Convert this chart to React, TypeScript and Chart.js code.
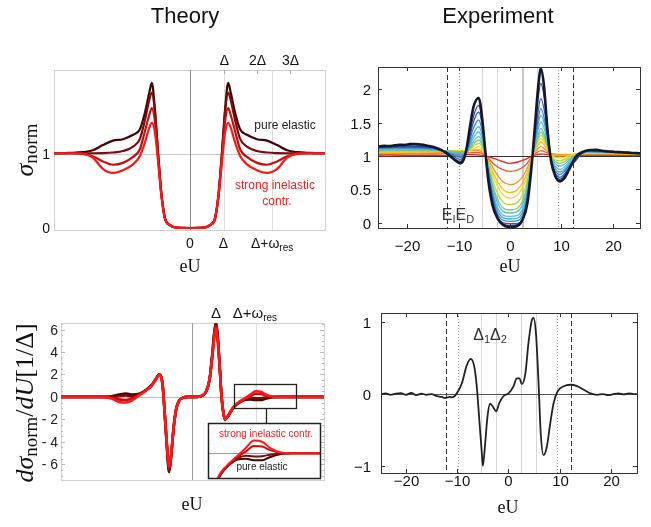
import React, { useEffect, useRef } from "react";
import { Chart, registerables } from "chart.js";

Chart.register(...registerables);

const W = 651;
const H = 527;
const SANS = "'Liberation Sans', Arial, Helvetica, sans-serif";
const SERIF = "'Liberation Serif', 'DejaVu Serif', 'Times New Roman', serif";

// ---------- Theory: normalized conductance, x in units of Delta
const thX = [-4.06, -3.6, -3.2, -2.9, -2.6, -2.3, -2.0, -1.7, -1.5, -1.35, -1.22, -1.14, -1.05, -0.95, -0.85, -0.75, -0.6, -0.4, 0, 0.4, 0.6, 0.75, 0.85, 0.95, 1.05, 1.14, 1.22, 1.35, 1.5, 1.7, 2.0, 2.3, 2.6, 2.9, 3.2, 3.6, 4.03];
const thPure = [1.01, 1.015, 1.025, 1.05, 1.12, 1.18, 1.2, 1.26, 1.33, 1.55, 1.82, 1.96, 1.62, 1.0, 0.45, 0.14, 0.04, 0.005, 0, 0.005, 0.04, 0.14, 0.45, 1.0, 1.62, 1.96, 1.82, 1.55, 1.33, 1.26, 1.2, 1.18, 1.12, 1.05, 1.025, 1.015, 1.01];
const thWeak = [1.01, 1.01, 1.01, 1.01, 1.012, 1.02, 1.04, 1.1, 1.2, 1.45, 1.72, 1.83, 1.58, 0.98, 0.44, 0.14, 0.04, 0.005, 0, 0.005, 0.04, 0.14, 0.44, 0.98, 1.58, 1.83, 1.72, 1.45, 1.2, 1.1, 1.04, 1.02, 1.012, 1.01, 1.01, 1.01, 1.01];
const thMid = [1.01, 1.01, 1.0, 0.97, 0.9, 0.855, 0.88, 0.96, 1.06, 1.3, 1.52, 1.62, 1.45, 0.93, 0.43, 0.13, 0.04, 0.005, 0, 0.005, 0.04, 0.13, 0.43, 0.93, 1.45, 1.62, 1.52, 1.3, 1.06, 0.96, 0.88, 0.855, 0.9, 0.97, 1.0, 1.01, 1.01];
const thStrong = [1.01, 1.01, 1.005, 0.95, 0.8, 0.745, 0.78, 0.86, 0.97, 1.15, 1.35, 1.42, 1.3, 0.88, 0.42, 0.13, 0.04, 0.005, 0, 0.005, 0.04, 0.13, 0.42, 0.88, 1.3, 1.42, 1.35, 1.15, 0.97, 0.86, 0.78, 0.745, 0.8, 0.95, 1.005, 1.01, 1.01];
const thColors = ["#3f0606", "#7e0b0b", "#c40f0f", "#ff1616"]; // pure elastic -> strong inelastic

const thTopTicks = [1, 2, 3];
const thTopLabels = ["Δ", "2Δ", "3Δ"];
const thBottomTicks = [0, 1, 2.45];
const thBottomLabels = ["0", "Δ", "Δ+ω"];
const thBottomSubs = ["", "", "res"];
const thYTicks = [0, 1];

// ---------- Theory: derivative
const tdX = [-5.04, -4.0, -3.4, -3.1, -2.8, -2.55, -2.3, -2.0, -1.75, -1.55, -1.4, -1.26, -1.13, -1.04, -0.97, -0.88, -0.8, -0.7, -0.6, -0.5, -0.35, -0.15, 0, 0.2, 0.4, 0.55, 0.68, 0.78, 0.86, 0.92, 0.98, 1.06, 1.13, 1.2, 1.27, 1.38, 1.5, 1.65, 1.85, 2.05, 2.25, 2.45, 2.65, 2.85, 3.1, 3.4, 4.0, 5.08];
const tdPure = [0, 0, 0, 0.05, 0.2, 0.3, 0.2, 0.3, 0.66, 1.06, 1.56, 2.0, 1.1, -1.8, -4.3, -6.7, -5.3, -2.6, -1.0, -0.35, -0.08, 0, 0, 0, 0.12, 0.5, 1.6, 3.8, 5.8, 6.6, 5.7, 3.0, 0.3, -1.3, -2.0, -1.76, -1.3, -0.82, -0.46, -0.25, -0.22, -0.28, -0.28, -0.15, -0.03, 0, 0, 0];
const tdWeak = [0, 0, 0, 0.0, 0.08, 0.12, 0.05, 0.25, 0.64, 1.04, 1.54, 2.0, 1.08, -1.8, -4.2, -6.6, -5.2, -2.6, -1.0, -0.35, -0.08, 0, 0, 0, 0.12, 0.5, 1.6, 3.7, 5.7, 6.5, 5.6, 2.95, 0.28, -1.3, -2.0, -1.74, -1.28, -0.8, -0.44, -0.2, -0.1, -0.13, -0.12, -0.06, -0.01, 0, 0, 0];
const tdMid = [0, 0, 0, -0.07, -0.22, -0.27, -0.15, 0.22, 0.62, 1.02, 1.52, 2.0, 1.05, -1.8, -4.1, -6.4, -5.1, -2.6, -1.0, -0.35, -0.08, 0, 0, 0, 0.12, 0.5, 1.6, 3.6, 5.5, 6.3, 5.5, 2.9, 0.25, -1.3, -2.0, -1.72, -1.25, -0.78, -0.42, -0.14, 0.06, 0.28, 0.26, 0.12, 0.02, 0, 0, 0];
const tdStrong = [0, 0, 0, -0.15, -0.45, -0.5, -0.3, 0.2, 0.6, 1.0, 1.5, 2.0, 1.0, -1.8, -4.0, -6.2, -5.0, -2.6, -1.0, -0.35, -0.08, 0, 0, 0, 0.12, 0.5, 1.6, 3.5, 5.3, 6.1, 5.3, 2.8, 0.2, -1.3, -2.0, -1.7, -1.2, -0.75, -0.4, -0.1, 0.2, 0.5, 0.45, 0.2, 0.03, 0, 0, 0];
const tdYTicks = [6, 4, 2, 0, -2, -4, -6];
const tdYLabels = ["6", "4", "2", "0", "- 2", "- 4", "- 6"];

// ---------- Experiment: normalized conductance, x in meV
const exX = [-25.7, -20, -15, -12.5, -9.7, -8.4, -7.2, -6.1, -5.3, -4.7, -3.0, -1.5, 0, 1.5, 3.0, 4.4, 5.2, 6.0, 6.8, 8.0, 9.7, 12.0, 15, 20, 25.3];
const exRed = [1.0, 1.005, 1.01, 1.01, 1.02, 1.02, 1.02, 1.015, 1.01, 1.0, 0.96, 0.92, 0.89, 0.91, 0.95, 1.0, 1.02, 1.03, 1.025, 1.015, 1.01, 1.01, 1.01, 1.01, 1.01];
const exRedOrange = [1.02, 1.03, 1.03, 1.035, 1.04, 1.045, 1.05, 1.05, 1.03, 1.0, 0.87, 0.8, 0.77, 0.79, 0.86, 1.0, 1.05, 1.08, 1.06, 1.03, 1.02, 1.02, 1.02, 1.02, 1.02];
const exOrange = [1.04, 1.045, 1.05, 1.06, 1.07, 1.075, 1.08, 1.08, 1.05, 1.0, 0.78, 0.62, 0.57, 0.61, 0.76, 1.0, 1.09, 1.14, 1.1, 1.03, 1.02, 1.025, 1.03, 1.03, 1.03];
const exAmber = [1.05, 1.055, 1.06, 1.07, 1.08, 1.08, 1.09, 1.1, 1.07, 1.0, 0.7, 0.51, 0.45, 0.5, 0.68, 1.0, 1.13, 1.21, 1.15, 1.02, 1.0, 1.02, 1.04, 1.035, 1.03];
const exYellow = [1.06, 1.065, 1.07, 1.075, 1.08, 1.08, 1.11, 1.14, 1.09, 1.0, 0.64, 0.43, 0.37, 0.42, 0.62, 1.0, 1.16, 1.26, 1.19, 1.01, 0.97, 1.01, 1.04, 1.04, 1.03];
const exLime = [1.07, 1.075, 1.075, 1.075, 1.07, 1.08, 1.14, 1.19, 1.12, 1.0, 0.55, 0.32, 0.27, 0.31, 0.53, 1.0, 1.19, 1.31, 1.22, 1.0, 0.93, 1.0, 1.05, 1.045, 1.035];
const exGreen = [1.08, 1.085, 1.08, 1.075, 1.06, 1.07, 1.17, 1.24, 1.15, 1.0, 0.47, 0.23, 0.19, 0.22, 0.45, 1.0, 1.22, 1.36, 1.26, 0.99, 0.89, 0.98, 1.05, 1.045, 1.035];
const exTeal = [1.09, 1.095, 1.09, 1.075, 1.05, 1.07, 1.21, 1.29, 1.18, 1.0, 0.42, 0.18, 0.145, 0.17, 0.4, 1.0, 1.25, 1.41, 1.3, 0.98, 0.85, 0.96, 1.06, 1.05, 1.04];
const exCyan = [1.1, 1.105, 1.1, 1.07, 1.03, 1.07, 1.26, 1.36, 1.22, 1.0, 0.36, 0.12, 0.094, 0.11, 0.34, 1.0, 1.31, 1.51, 1.37, 0.97, 0.8, 0.94, 1.06, 1.05, 1.04];
const exSky = [1.11, 1.115, 1.105, 1.065, 1.0, 1.07, 1.32, 1.44, 1.27, 1.0, 0.31, 0.08, 0.055, 0.07, 0.29, 1.0, 1.37, 1.61, 1.45, 0.96, 0.76, 0.92, 1.07, 1.055, 1.04];
const exBlue = [1.12, 1.125, 1.11, 1.06, 0.98, 1.08, 1.4, 1.54, 1.33, 1.0, 0.26, 0.04, 0.02, 0.03, 0.24, 1.0, 1.43, 1.71, 1.52, 0.95, 0.72, 0.9, 1.07, 1.055, 1.04];
const exMidBlue = [1.125, 1.135, 1.12, 1.06, 0.95, 1.09, 1.49, 1.66, 1.4, 1.0, 0.22, 0.0, -0.015, -0.01, 0.2, 1.0, 1.52, 1.86, 1.63, 0.94, 0.68, 0.88, 1.08, 1.06, 1.045];
const exNavy = [1.13, 1.15, 1.13, 1.055, 0.92, 1.1, 1.57, 1.76, 1.46, 1.0, 0.19, -0.02, -0.04, -0.03, 0.18, 1.0, 1.65, 2.09, 1.8, 0.93, 0.65, 0.86, 1.08, 1.06, 1.045];
const exSeries = [exRed, exRedOrange, exOrange, exAmber, exYellow, exLime, exGreen, exTeal, exCyan, exSky, exBlue, exMidBlue, exNavy];
const exColors = ["#e8262a", "#f0532b", "#f7931e", "#f9b81b", "#f0dc1f", "#bdd636", "#82c673", "#5dc3b0", "#4cc0e4", "#3fa2db", "#3680c8", "#2f5fb0", "#283d92"];

const exBlackX = [-25.7, -24.5, -23.5, -22.5, -21.5, -20.5, -19.5, -18.5, -17.5, -16.5, -15.5, -14.5, -13.5, -12.5, -11.5, -10.6, -9.7, -9.0, -8.4, -7.8, -7.1, -6.1, -5.4, -4.8, -4.2, -3.4, -2.4, -1.4, 0, 1.4, 2.4, 3.4, 4.2, 4.9, 5.5, 6.0, 6.6, 7.3, 8.0, 8.8, 9.7, 10.7, 11.7, 12.8, 13.8, 14.8, 15.8, 16.8, 17.8, 18.8, 19.8, 20.8, 21.8, 22.8, 23.8, 25.3];
const exBlack = [1.14, 1.152, 1.148, 1.16, 1.168, 1.165, 1.178, 1.18, 1.172, 1.162, 1.145, 1.125, 1.095, 1.05, 0.99, 0.93, 0.89, 0.95, 1.14, 1.44, 1.74, 1.87, 1.55, 1.06, 0.62, 0.26, 0.06, -0.03, -0.065, -0.05, 0.04, 0.3, 0.85, 1.5, 2.05, 2.31, 2.06, 1.38, 0.92, 0.7, 0.62, 0.68, 0.83, 0.99, 1.05, 1.08, 1.09, 1.092, 1.08, 1.072, 1.066, 1.06, 1.056, 1.05, 1.046, 1.04];
const exBlackColor = "#15172a";

const expXTicks = [-20, -10, 0, 10, 20];
const expYTicks = [0, 0.5, 1, 1.5, 2];
const expDYTicks = [-1, 0, 1];
const expDashed = [-12.3, 12.2];
const expDotted = [-9.9, 9.4];
const expGray = [-5.4, -2.5, 5.3];
const expGrayBold = [2.5];

// ---------- Experiment: derivative
const edX = [-24.9, -24, -23, -22, -21, -20, -19, -18, -17, -16, -15, -14, -13, -12.4, -11.5, -11.0, -10.1, -9.1, -8.2, -7.4, -6.7, -6.2, -5.7, -5.2, -5.0, -4.6, -4.1, -3.6, -3.1, -2.4, -1.8, -1.0, 0, 1.0, 1.6, 2.15, 2.6, 3.3, 3.9, 4.6, 4.9, 5.4, 5.9, 6.3, 6.85, 7.5, 8.15, 8.8, 9.6, 10.8, 12.1, 13.4, 14.7, 16.0, 17.3, 18.5, 19.5, 20.5, 21.5, 22.5, 23.5, 24.5, 25.1];
const edY = [0.0, 0.01, -0.01, 0.005, 0.012, -0.01, 0.015, -0.015, 0.005, -0.01, 0.0, -0.03, -0.04, -0.055, -0.04, -0.045, 0.01, 0.15, 0.39, 0.49, 0.39, 0.11, -0.36, -0.83, -1.0, -0.73, -0.31, -0.135, -0.17, -0.24, -0.125, -0.03, 0.01, 0.11, 0.22, 0.22, 0.14, 0.29, 0.71, 1.04, 1.06, 0.81, 0.11, -0.55, -0.85, -0.73, -0.41, -0.13, 0.04, 0.11, 0.13, 0.11, 0.06, 0.01, -0.01, 0.0, -0.015, 0.0, 0.01, -0.005, 0.01, 0.0, 0.0];

// ---------- helpers
type Part = [string, string, number];

const pts = (xs: number[], ys: number[]) => xs.map((x, i) => ({ x, y: ys[i] }));
const line = (xs: number[], ys: number[], color: string, width: number, order: number) => ({
  data: pts(xs, ys),
  borderColor: color,
  borderWidth: width,
  pointRadius: 0,
  fill: false,
  order,
  cubicInterpolationMode: "monotone",
  borderJoinStyle: "round",
  borderCapStyle: "round",
});

const fmt = (v: number) => (v < 0 ? "\u2212" + Math.abs(v) : String(v));
const px = (c: any, v: number) => c.scales.x.getPixelForValue(v);
const py = (c: any, v: number) => c.scales.y.getPixelForValue(v);
const crisp = (v: number) => Math.round(v) + 0.5;

function seg(ctx: CanvasRenderingContext2D, x1: number, y1: number, x2: number, y2: number, color: string, w = 1, dash: number[] = []) {
  ctx.save();
  ctx.strokeStyle = color;
  ctx.lineWidth = w;
  ctx.setLineDash(dash);
  ctx.beginPath();
  ctx.moveTo(x1, y1);
  ctx.lineTo(x2, y2);
  ctx.stroke();
  ctx.restore();
}
function vline(c: any, v: number, color: string, w = 1, dash: number[] = []) {
  const a = c.chartArea;
  const X = w % 2 === 1 ? crisp(px(c, v)) : Math.round(px(c, v));
  seg(c.ctx, X, a.top, X, a.bottom, color, w, dash);
}
function hline(c: any, v: number, color: string, w = 1) {
  const a = c.chartArea;
  const Y = crisp(py(c, v));
  seg(c.ctx, a.left, Y, a.right, Y, color, w);
}
function box(ctx: CanvasRenderingContext2D, l: number, t: number, r: number, b: number, color: string, w = 1) {
  ctx.save();
  ctx.strokeStyle = color;
  ctx.lineWidth = w;
  ctx.strokeRect(crisp(l), crisp(t), Math.round(r - l), Math.round(b - t));
  ctx.restore();
}
function rich(ctx: CanvasRenderingContext2D, parts: Part[], x: number, y: number, align: string, color: string, rot = 0) {
  ctx.save();
  ctx.translate(x, y);
  if (rot) ctx.rotate(rot);
  ctx.fillStyle = color;
  ctx.textBaseline = "alphabetic";
  ctx.textAlign = "left";
  const ws = parts.map((p) => {
    ctx.font = p[1];
    return ctx.measureText(p[0]).width;
  });
  const total = ws.reduce((s, w) => s + w, 0);
  let cx = align === "center" ? -total / 2 : align === "right" ? -total : 0;
  parts.forEach((p, i) => {
    ctx.font = p[1];
    ctx.fillText(p[0], cx, p[2]);
    cx += ws[i];
  });
  ctx.restore();
}

type Panel = {
  area: number[];
  x: number[];
  y: number[];
  datasets: any[];
  under?: (c: any) => void;
  over?: (c: any) => void;
};

function makeChart(canvas: HTMLCanvasElement, p: Panel) {
  const [l, t, r, b] = p.area;
  return new Chart(canvas, {
    type: "line",
    data: { datasets: p.datasets },
    options: {
      responsive: false,
      animation: false,
      devicePixelRatio: 1,
      events: [],
      layout: { padding: { left: l, top: t, right: W - r, bottom: H - b } },
      plugins: { legend: { display: false }, tooltip: { enabled: false } },
      scales: {
        x: { type: "linear", min: p.x[0], max: p.x[1], display: false },
        y: { type: "linear", min: p.y[0], max: p.y[1], display: false },
      },
    },
    plugins: [
      {
        id: "deco",
        beforeDatasetsDraw: (c: any) => p.under && p.under(c),
        afterDraw: (c: any) => p.over && p.over(c),
      },
    ],
  } as any);
}

const theorySets = (xs: number[], a: number[], b: number[], cc: number[], d: number[], w: number) => [
  line(xs, d, thColors[3], w, 0),
  line(xs, cc, thColors[2], w, 1),
  line(xs, b, thColors[1], w, 2),
  line(xs, a, thColors[0], w, 3),
];

const f = (size: number, fam: string, style = "") => `${style} ${size}px ${fam}`.trim();

// ---------- panels
const panel1: Panel = {
  area: [54, 70, 325, 230],
  x: [-4.06, 4.03],
  y: [-0.027, 2.135],
  datasets: theorySets(thX, thPure, thWeak, thMid, thStrong, 2.2),
  under: (c) => {
    const a = c.chartArea;
    box(c.ctx, a.left, a.top, a.right, a.bottom, "#cfcfcf");
    hline(c, 1, "#cccccc");
    vline(c, 1, "#dddddd");
    vline(c, 2.45, "#dddddd");
    vline(c, 0, "#8f8f8f");
  },
  over: (c) => {
    const ctx = c.ctx;
    const a = c.chartArea;
    rich(ctx, [["Theory", f(22, SANS), 0]], 185, 23, "center", "#111");
    thTopTicks.forEach((v, i) => {
      const X = crisp(px(c, v));
      seg(ctx, X, a.top, X, a.top + 4, "#aaaaaa");
      rich(ctx, [[thTopLabels[i], f(14, SANS), 0]], X, 65, "center", "#111");
    });
    thBottomTicks.forEach((v, i) => {
      const parts: Part[] = [[thBottomLabels[i], f(14, SANS), 0]];
      if (thBottomSubs[i]) parts.push([thBottomSubs[i], f(10, SANS), 3]);
      rich(ctx, parts, px(c, v), 248, "center", "#111");
    });
    thYTicks.forEach((v) => rich(ctx, [[String(v), f(14, SANS), 0]], 50, py(c, v) + 5, "right", "#111"));
    rich(ctx, [["pure elastic", f(12, SANS), 0]], 285, 129, "center", "#222");
    rich(ctx, [["strong inelastic", f(12, SANS), 0]], 275, 189, "center", "#ff1a1a");
    rich(ctx, [["contr.", f(12, SANS), 0]], 277, 205, "center", "#ff1a1a");
    rich(ctx, [["σ", f(26, SERIF, "italic"), 0], ["norm", f(19, SERIF), 4]], 33, 150, "center", "#111", -Math.PI / 2);
    rich(ctx, [["eU", f(18, SERIF), 0]], 190, 272, "center", "#111");
  },
};

const panel2: Panel = {
  area: [378, 67, 640, 228],
  x: [-25.7, 25.3],
  y: [-0.08, 2.335],
  datasets: [
    ...exSeries.map((ys, i) => line(exX, ys, exColors[i], 1.3, 100 - i)),
    line(exBlackX, exBlack, exBlackColor, 2.6, 0),
  ],
  under: (c) => {
    expGray.forEach((v) => vline(c, v, "#d6d6d6", 1));
    expGrayBold.forEach((v) => vline(c, v, "#c8c8c8", 2));
    expDotted.forEach((v) => vline(c, v, "#9a9a9a", 1, [1, 2]));
    expDashed.forEach((v) => vline(c, v, "#333333", 1, [5, 3]));
    hline(c, 1, "#333333");
  },
  over: (c) => {
    const ctx = c.ctx;
    const a = c.chartArea;
    box(ctx, a.left, a.top, a.right, a.bottom, "#333333");
    rich(ctx, [["Experiment", f(22, SANS), 0]], 498, 23, "center", "#111");
    expXTicks.forEach((v) => {
      const X = crisp(px(c, v));
      seg(ctx, X, a.bottom, X, a.bottom - 4, "#333");
      seg(ctx, X, a.top, X, a.top + 4, "#333");
      rich(ctx, [[fmt(v), f(15, SANS), 0]], X, 251, "center", "#111");
    });
    expYTicks.forEach((v) => {
      const Y = crisp(py(c, v));
      seg(ctx, a.left, Y, a.left + 4, Y, "#333");
      seg(ctx, a.right, Y, a.right - 4, Y, "#333");
      rich(ctx, [[String(v), f(15, SANS), 0]], 371, Y + 5.5, "right", "#111");
    });
    rich(ctx, [["E", f(16, SANS), 0], ["I", f(11, SANS), 3], ["E", f(16, SANS), 0], ["D", f(11, SANS), 3]], 458, 220, "center", "#333");
    rich(ctx, [["eU", f(18, SERIF), 0]], 510, 272, "center", "#111");
  },
};

const insetSmall = { x0: 1.63, x1: 4.03, y0: -0.98, y1: 1.19 };

const panel3: Panel = {
  area: [61, 323, 324, 480],
  x: [-5.04, 5.08],
  y: [-7.4, 6.58],
  datasets: theorySets(tdX, tdPure, tdWeak, tdMid, tdStrong, 2.6),
  under: (c) => {
    const ctx = c.ctx;
    const a = c.chartArea;
    box(ctx, a.left, a.top, a.right, a.bottom, "#cfcfcf");
    for (let k = -14; k <= 13; k++) {
      const v = k / 2;
      const Y = crisp(py(c, v));
      const len = k % 4 === 0 ? 4 : 2;
      seg(ctx, a.left, Y, a.left + len, Y, "#bbbbbb");
      seg(ctx, a.right, Y, a.right - len, Y, "#bbbbbb");
    }
    hline(c, 0, "#bdbdbd");
    vline(c, 2.45, "#dddddd");
    vline(c, 0, "#9a9a9a");
  },
  over: (c) => {
    const ctx = c.ctx;
    const l = px(c, insetSmall.x0);
    const r = px(c, insetSmall.x1);
    const t = py(c, insetSmall.y1);
    const b = py(c, insetSmall.y0);
    box(ctx, l, t, r, b, "#222", 1.3);
    const mx = crisp((l + r) / 2);
    seg(ctx, mx, Math.round(b) + 1, mx, 423, "#222", 1.3);
    tdYTicks.forEach((v, i) => rich(ctx, [[tdYLabels[i], f(14, SANS), 0]], 58, py(c, v) + 5, "right", "#222"));
    rich(ctx, [["Δ", f(15, SANS), 0]], px(c, 0.92), 318, "center", "#111");
    rich(ctx, [["Δ+ω", f(15, SANS), 0], ["res", f(10, SANS), 3]], px(c, 2.42), 318, "center", "#111");
    rich(
      ctx,
      [
        ["dσ", f(26, SERIF, "italic"), 0],
        ["norm", f(19, SERIF), 4],
        ["/", f(26, SERIF), 0],
        ["dU", f(26, SERIF, "italic"), 0],
        ["[1/Δ]", f(26, SERIF), 0],
      ],
      33,
      403,
      "center",
      "#111",
      -Math.PI / 2
    );
    rich(ctx, [["eU", f(18, SERIF), 0]], 192, 510, "center", "#111");
  },
};

const panelInset: Panel = {
  area: [208, 423, 320, 478],
  x: [1.33, 4.06],
  y: [-0.98, 1.19],
  datasets: theorySets(tdX, tdPure, tdWeak, tdMid, tdStrong, 2),
  under: (c) => {
    const ctx = c.ctx;
    const a = c.chartArea;
    ctx.save();
    ctx.fillStyle = "#ffffff";
    ctx.fillRect(a.left, a.top, a.right - a.left, a.bottom - a.top);
    ctx.restore();
    hline(c, 0, "#9a9a9a");
  },
  over: (c) => {
    const ctx = c.ctx;
    const a = c.chartArea;
    box(ctx, a.left, a.top, a.right, a.bottom, "#222", 1.5);
    rich(ctx, [["strong inelastic contr.", f(10, SANS), 0]], 266, 437, "center", "#ff1a1a");
    rich(ctx, [["pure elastic", f(10, SANS), 0]], 262, 470, "center", "#222");
  },
};

const panel4: Panel = {
  area: [381, 313, 637, 473],
  x: [-24.9, 25.1],
  y: [-1.1, 1.13],
  datasets: [line(edX, edY, "#222222", 1.8, 0)],
  under: (c) => {
    expGray.forEach((v) => vline(c, v, "#d6d6d6", 1));
    expGrayBold.forEach((v) => vline(c, v, "#cfcfcf", 1));
    expDotted.forEach((v) => vline(c, v, "#9a9a9a", 1, [1, 2]));
    expDashed.forEach((v) => vline(c, v, "#333333", 1, [5, 3]));
    hline(c, 0, "#555555");
  },
  over: (c) => {
    const ctx = c.ctx;
    const a = c.chartArea;
    box(ctx, a.left, a.top, a.right, a.bottom, "#333333");
    expXTicks.forEach((v) => {
      const X = crisp(px(c, v));
      seg(ctx, X, a.bottom, X, a.bottom - 4, "#333");
      seg(ctx, X, a.top, X, a.top + 4, "#333");
      rich(ctx, [[fmt(v), f(15, SANS), 0]], X, 486, "center", "#111");
    });
    expDYTicks.forEach((v) => {
      const Y = crisp(py(c, v));
      seg(ctx, a.left, Y, a.left + 4, Y, "#333");
      seg(ctx, a.right, Y, a.right - 4, Y, "#333");
      rich(ctx, [[fmt(v), f(15, SANS), 0]], 371, Y + 5.5, "right", "#111");
    });
    rich(ctx, [["Δ", f(16, SANS), 0], ["1", f(11, SANS), 3], ["Δ", f(16, SANS), 0], ["2", f(11, SANS), 3]], 490, 340, "center", "#333");
    rich(ctx, [["eU", f(18, SERIF), 0]], 508, 513, "center", "#111");
  },
};

export default function App() {
  const r1 = useRef<HTMLCanvasElement>(null);
  const r2 = useRef<HTMLCanvasElement>(null);
  const r3 = useRef<HTMLCanvasElement>(null);
  const r4 = useRef<HTMLCanvasElement>(null);
  const r5 = useRef<HTMLCanvasElement>(null);

  useEffect(() => {
    const charts = [
      makeChart(r1.current!, panel1),
      makeChart(r2.current!, panel2),
      makeChart(r3.current!, panel3),
      makeChart(r4.current!, panel4),
      makeChart(r5.current!, panelInset),
    ];
    return () => charts.forEach((ch) => ch.destroy());
  }, []);

  const cs: React.CSSProperties = { position: "absolute", left: 0, top: 0, width: W, height: H };
  return (
    <div style={{ position: "absolute", left: 0, top: 0, width: W, height: H, background: "#ffffff", overflow: "hidden" }}>
      <canvas ref={r1} width={W} height={H} style={cs} />
      <canvas ref={r2} width={W} height={H} style={cs} />
      <canvas ref={r3} width={W} height={H} style={cs} />
      <canvas ref={r4} width={W} height={H} style={cs} />
      <canvas ref={r5} width={W} height={H} style={cs} />
    </div>
  );
}
